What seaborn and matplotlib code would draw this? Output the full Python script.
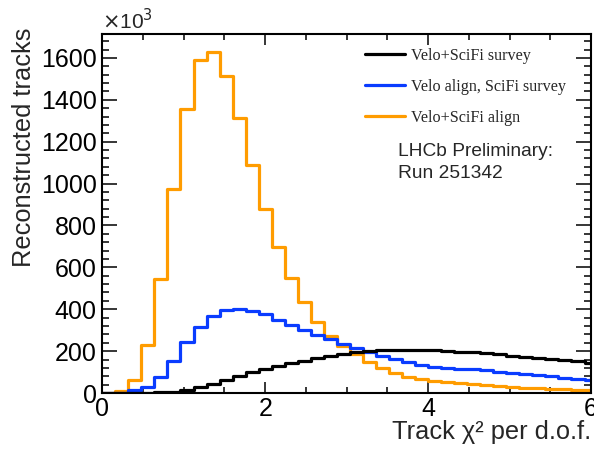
import numpy as np
import pandas as pd
import seaborn as sns
import matplotlib
matplotlib.use("Agg")
import matplotlib.pyplot as plt
from matplotlib.lines import Line2D
from matplotlib.ticker import MultipleLocator

# ---- data (counts in units of 10^3 per bin of width 0.16) ----
bin_width = 0.16
n_bins = 38
labels = ["Velo+SciFi survey", "Velo align, SciFi survey", "Velo+SciFi align"]
colors = ["#000000", "#0a3cff", "#ff9c00"]

survey = [0, 0, 1, 2, 4, 7, 15, 27, 45, 63, 80, 100, 115, 127, 142, 155, 167, 178,
          187, 194, 200, 203, 205, 207, 206, 204, 201, 198, 194, 190, 185, 179, 174,
          168, 162, 157, 151, 145]
velo_align = [0, 2, 14, 30, 78, 155, 243, 313, 369, 394, 401, 390, 376, 351, 325, 302,
              278, 257, 235, 217, 198, 177, 161, 147, 134, 126, 121, 117, 113, 108, 102,
              96, 91, 85, 79, 73, 66, 60]
full_align = [1, 10, 60, 230, 545, 972, 1356, 1592, 1627, 1512, 1311, 1087, 877, 698,
              550, 433, 341, 273, 225, 185, 150, 121, 94, 78, 66, 57, 52, 46, 41, 37, 33,
              29, 26, 23, 21, 19, 16, 14]

centers = (np.arange(n_bins) + 0.5) * bin_width

series = [survey, velo_align, full_align]
df = pd.concat([
    pd.DataFrame({"chi2": centers, "tracks": vals, "config": lab})
    for vals, lab in zip(series, labels)
], ignore_index=True)

sns.set_theme(style="ticks")
plt.rcParams["font.family"] = ["Liberation Sans", "DejaVu Sans"]

fig = plt.figure(figsize=(5.94, 4.49), dpi=100)
ax = fig.add_axes([0.1722, 0.1247, 0.8228, 0.7985])

sns.histplot(data=df, x="chi2", weights="tracks", hue="config", hue_order=labels,
             binwidth=bin_width, binrange=(0, n_bins * bin_width),
             element="step", fill=False, palette=colors,
             linewidth=2.3, legend=False, ax=ax)

ax.set_xlim(0, 6)
ax.set_ylim(0, 1712)

ax.xaxis.set_major_locator(MultipleLocator(2))
ax.xaxis.set_minor_locator(MultipleLocator(0.5))
ax.yaxis.set_major_locator(MultipleLocator(200))
ax.yaxis.set_minor_locator(MultipleLocator(40))

ax.tick_params(axis="both", which="both", direction="in", top=True, right=True,
               width=1.1, colors="black", labelsize=18)
ax.tick_params(axis="x", which="major", length=8, pad=3)
ax.tick_params(axis="x", which="minor", length=4)
ax.tick_params(axis="y", which="major", length=10.8, pad=4)
ax.tick_params(axis="y", which="minor", length=5.3)

for s in ax.spines.values():
    s.set_linewidth(1.5)
    s.set_color("black")

ax.set_ylabel("Reconstructed tracks", fontsize=18.3, loc="top")
ax.yaxis.set_label_coords(-0.136, 1.018)
ax.set_xlabel("Track χ² per d.o.f.", fontsize=18.3, loc="right")
ax.xaxis.set_label_coords(1.0, -0.076)

ax.text(0.0, 1.003, r"$\times$10$^{3}$", transform=ax.transAxes, fontsize=15,
        ha="left", va="bottom")

handles = [Line2D([0], [0], color=c, lw=2.3) for c in colors]
leg = ax.legend(handles, labels, loc="upper left", bbox_to_anchor=(0.5375, 0.962),
                frameon=False, borderaxespad=0, borderpad=0, handlelength=2.5,
                handletextpad=0.35, labelspacing=0.92,
                prop={"family": ["Liberation Serif"], "size": 11.6})

ax.text(0.6057, 0.673, "LHCb Preliminary:", transform=ax.transAxes, fontsize=13.8,
        ha="left", va="center")
ax.text(0.6057, 0.6128, "Run 251342", transform=ax.transAxes, fontsize=13.8,
        ha="left", va="center")

fig.savefig("out.png", dpi=100)
